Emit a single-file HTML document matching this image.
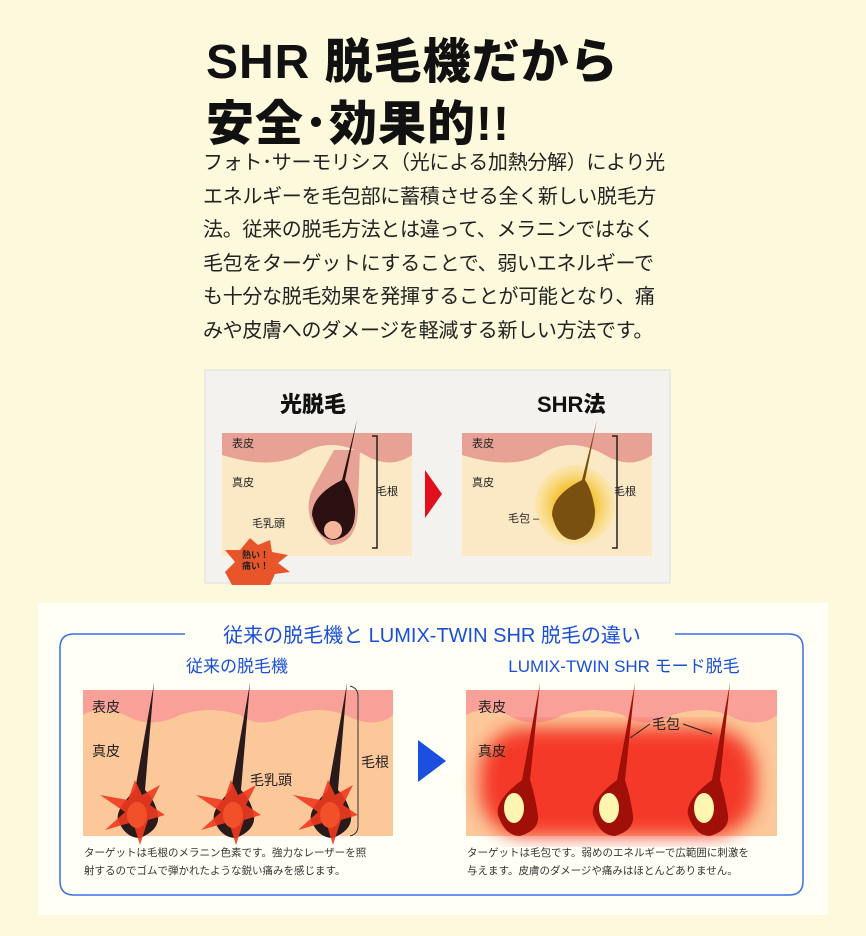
<!DOCTYPE html><html><head><meta charset="utf-8"><style>
body{margin:0;width:866px;height:936px;background:#fdf9dc;position:relative;overflow:hidden;font-family:"Liberation Sans","Noto Sans CJK JP",sans-serif}
.a{position:absolute;white-space:nowrap}
.t{font-weight:900;font-size:48px;color:#111;letter-spacing:1px}
.p{font-size:20px;color:#222;line-height:33.5px;left:203px;top:147px;letter-spacing:-0.3px}
</style></head><body>
<div class="a t" style="left:206px;top:22px">SHR 脱毛機だから</div>
<div class="a t" style="left:206px;top:84px">安全･効果的!!</div>
<div class="a p">フォト･サーモリシス（光による加熱分解）により光<br>エネルギーを毛包部に蓄積させる全く新しい脱毛方<br>法。従来の脱毛方法とは違って、メラニンではなく<br>毛包をターゲットにすることで、弱いエネルギーで<br>も十分な脱毛効果を発揮することが可能となり、痛<br>みや皮膚へのダメージを軽減する新しい方法です。</div>
<svg class="a" style="left:0;top:0" width="866" height="936" font-family="Liberation Sans,Noto Sans CJK JP,sans-serif">
<defs>
<radialGradient id="g1"><stop offset="0.5" stop-color="#f5c030" stop-opacity="0.9"/><stop offset="1" stop-color="#f8d860" stop-opacity="0.2"/></radialGradient>
<filter id="bl"><feGaussianBlur stdDeviation="9"/></filter>
</defs>
<rect x="205" y="370" width="465" height="213" fill="#f4f2ee" stroke="#ddd"/>
<text x="280" y="412" font-size="22" font-weight="900" fill="#111">光脱毛</text>
<text x="537" y="412" font-size="22" font-weight="900" fill="#111">SHR法</text>
<rect x="222" y="433" width="190" height="123" fill="#fbe9c5"/>
<path d="M222 433H412V455Q390 470 365 455Q330 435 300 455Q270 470 222 455Z" fill="#e8a195"/>
<path d="M334 450L312 490Q300 520 330 545Q360 545 358 500L360 450Z" fill="#e8a195"/>
<path d="M357 420L342 480Q312 495 312 515Q318 540 335 540Q356 535 355 510Q352 490 345 480Z" fill="#2a1010"/>
<circle cx="333" cy="530" r="9" fill="#f5b59a"/>
<path d="M372 436h5v112h-5" fill="none" stroke="#222" stroke-width="1.5"/>
<text x="232" y="447" font-size="11" fill="#222">表皮</text>
<text x="232" y="486" font-size="11" fill="#222">真皮</text>
<text x="252" y="527" font-size="11" fill="#222">毛乳頭</text>
<text x="376" y="495" font-size="11" fill="#222">毛根</text>
<polygon points="250,538 258,545 270,540 272,552 288,555 278,563 290,572 275,574 270,585 232,585 225,572 235,562 225,550 240,550" fill="#e8552a"/>
<text x="242" y="558" font-size="9" font-weight="bold" fill="#222">熱い！</text>
<text x="242" y="569" font-size="9" font-weight="bold" fill="#222">痛い！</text>
<polygon points="425,470 442,494 425,518" fill="#e0101e"/>
<rect x="462" y="433" width="190" height="123" fill="#fbe9c5"/>
<path d="M462 433H652V455Q630 470 605 455Q570 435 540 455Q510 470 462 455Z" fill="#e8a195"/>
<circle cx="575" cy="505" r="40" fill="url(#g1)"/>
<path d="M597 420L582 480Q552 495 552 515Q558 540 575 540Q596 535 595 510Q592 490 585 480Z" fill="#7a5010"/>
<path d="M612 436h5v112h-5" fill="none" stroke="#222" stroke-width="1.5"/>
<text x="472" y="447" font-size="11" fill="#222">表皮</text>
<text x="472" y="486" font-size="11" fill="#222">真皮</text>
<text x="508" y="522" font-size="11" fill="#222">毛包 –</text>
<text x="614" y="495" font-size="11" fill="#222">毛根</text>
<rect x="38" y="603" width="790" height="312" fill="#fffff6"/>
<path d="M185 634H74Q60 634 60 648V881Q60 895 74 895H789Q803 895 803 881V648Q803 634 789 634H675" fill="none" stroke="#3a6fe0" stroke-width="1.5"/>
<text x="432" y="642" font-size="20" fill="#1a4fd8" text-anchor="middle">従来の脱毛機と LUMIX-TWIN SHR 脱毛の違い</text>
<text x="237" y="672" font-size="17" fill="#1a4fd8" text-anchor="middle">従来の脱毛機</text>
<text x="624" y="672" font-size="17" fill="#1a4fd8" text-anchor="middle">LUMIX-TWIN SHR モード脱毛</text>
<rect x="83" y="690" width="310" height="146" fill="#fcc89a"/>
<path d="M83 690H393V715Q375 730 345 715Q320 705 290 715Q260 730 240 715Q210 705 180 715Q150 730 125 715Q100 705 83 715Z" fill="#f9a098"/>
<rect x="466" y="690" width="311" height="146" fill="#fcc89a"/>
<path d="M466 690H777V715Q758 730 728 715Q703 705 673 715Q643 730 623 715Q593 705 563 715Q533 730 508 715Q483 705 466 715Z" fill="#f9a098"/>
<rect x="480" y="728" width="276" height="108" rx="45" fill="#f43020" filter="url(#bl)" opacity="0.95"/>
<g id="h"><path d="M154 683L135 790Q115 810 118 820Q125 838 140 838Q160 830 158 815Q155 800 145 790Z" fill="#2b1a1a"/><polygon points="135,780 142,795 160,785 150,805 165,815 148,820 140,845 133,822 105,830 125,812 100,795 128,800" fill="#f03a20" opacity="0.9"/><ellipse cx="137" cy="815" rx="10" ry="13" fill="#f25028"/></g>
<use href="#h" x="96"/><use href="#h" x="193"/>
<path d="M350 686q8 2 8 10v130q0 8-8 10" fill="none" stroke="#333" stroke-width="1"/>
<text x="92" y="712" font-size="14" fill="#222">表皮</text>
<text x="92" y="756" font-size="14" fill="#222">真皮</text>
<text x="250" y="785" font-size="14" fill="#222">毛乳頭</text>
<text x="361" y="767" font-size="14" fill="#222">毛根</text>
<polygon points="418,740 446,761 418,782" fill="#1a4fe0"/>
<g id="k"><path d="M540 683L522 780Q495 800 498 815Q505 836 520 836Q540 830 538 815Q535 795 530 780Z" fill="#a01008"/><ellipse cx="514" cy="808" rx="10" ry="15" fill="#fdf5b0"/></g>
<use href="#k" x="95"/><use href="#k" x="190"/>
<text x="478" y="712" font-size="14" fill="#222">表皮</text>
<text x="478" y="756" font-size="14" fill="#222">真皮</text>
<text x="652" y="729" font-size="14" fill="#222">毛包</text>
<path d="M650 724L630 738M683 724L712 734" stroke="#222"/>
<text x="84" y="856" font-size="10.5" fill="#333">ターゲットは毛根のメラニン色素です。強力なレーザーを照</text>
<text x="84" y="874" font-size="10.5" fill="#333">射するのでゴムで弾かれたような鋭い痛みを感じます。</text>
<text x="467" y="856" font-size="10.5" fill="#333">ターゲットは毛包です。弱めのエネルギーで広範囲に刺激を</text>
<text x="467" y="874" font-size="10.5" fill="#333">与えます。皮膚のダメージや痛みはほとんどありません。</text>
</svg>
</body></html>
